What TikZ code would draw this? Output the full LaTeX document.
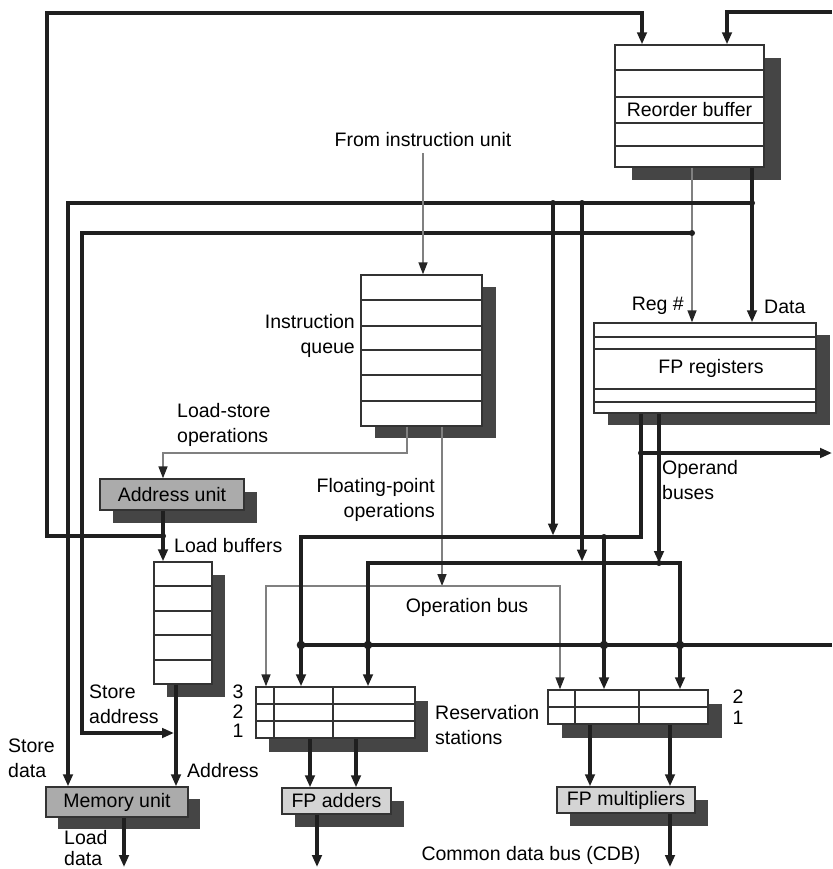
\documentclass[tikz,border=0pt]{standalone}
\usepackage{fontspec}
\setmainfont{Liberation Sans}
\usetikzlibrary{arrows.meta,shadows,calc}
\begin{document}
\begin{tikzpicture}[x=1pt,y=-1pt,
  font=\fontsize{19.5}{25}\selectfont,
  shad/.style 2 args={drop shadow={shadow xshift=#1,shadow yshift=#2,fill=black!73,opacity=1}},
  box/.style={draw=black!80,line width=1.4pt,fill=white,inner sep=0pt},
  unit/.style={box,fill=black!33},
  fpunit/.style={box,fill=black!17},
  rowl/.style={draw=black!80,line width=1.2pt},
  bus/.style={draw=black!88,line width=3.2pt},
  gline/.style={draw=black!50,line width=1.6pt},
  barr/.style={bus,-{Triangle[length=12pt,width=9.5pt]}},
  bbarr/.style={bus,{Triangle[length=12pt,width=9.5pt]}-{Triangle[length=12pt,width=9.5pt]}},
  garr/.style={gline,-{Triangle[length=12pt,width=9pt,color=black!85]}},
  ggarr/.style={gline,{Triangle[length=12pt,width=9pt,color=black!85]}-{Triangle[length=12pt,width=9pt,color=black!85]}},
  lbl/.style={inner sep=0pt,text=black,align=left}
]
\useasboundingbox (0,0) rectangle (832,869);

% ---------- boxes ----------
\node[box,shad={17pt}{-13pt},minimum width=149pt,minimum height=122pt] (rob) at (689.5,106) {};
\node[box,shad={14pt}{-12pt},minimum width=121pt,minimum height=151pt] (iq) at (421.5,350.5) {};
\node[box,shad={14pt}{-12pt},minimum width=222pt,minimum height=90pt] (fpr) at (705,368) {};
\node[unit,shad={13pt}{-13pt},minimum width=144pt,minimum height=31pt] (au) at (172,494.5) {Address unit};
\node[box,shad={13pt}{-13pt},minimum width=58pt,minimum height=122pt] (lb) at (183,623) {};
\node[unit,shad={12pt}{-12pt},minimum width=142pt,minimum height=30pt] (mu) at (117,802) {Memory unit};
\node[box,shad={13pt}{-14pt},minimum width=159pt,minimum height=51pt] (rsa) at (335.5,712.5) {};
\node[box,shad={14pt}{-14pt},minimum width=160pt,minimum height=34pt] (rsm) at (628,707) {};
\node[fpunit,shad={13pt}{-13pt},minimum width=109pt,minimum height=26pt] (fpa) at (336.5,801) {FP adders};
\node[fpunit,shad={13pt}{-13pt},minimum width=138pt,minimum height=26pt] (fpm) at (626,800) {FP multipliers};

% rows
\foreach \y in {70,97,123,146} \draw[rowl] (615,\y) -- (764,\y);
\foreach \y in {300,326,350,375,401} \draw[rowl] (361,\y) -- (482,\y);
\foreach \y in {337,349,389,402} \draw[rowl] (594,\y) -- (816,\y);
\foreach \y in {586,611,635,660} \draw[rowl] (154,\y) -- (212,\y);
\foreach \y in {704,721} \draw[rowl] (256,\y) -- (415,\y);
\foreach \x in {274,333} \draw[rowl] (\x,687) -- (\x,738);
\draw[rowl] (548,707) -- (708,707);
\foreach \x in {575,639} \draw[rowl] (\x,690) -- (\x,724);

\node[lbl] (robt) at (689.5,110) {Reorder buffer};
\node[lbl] (fprt) at (711,368) {FP registers};

% ---------- coordinates ----------
\coordinate (j1) at (163,536);
\coordinate (vA) at (642,13);
\coordinate (vB) at (727,12);
\coordinate (rg) at (692,233);
\coordinate (dt) at (752,203);
\coordinate (sd) at (68,203);
\coordinate (c553) at (553,203);
\coordinate (c582) at (582,203);
\coordinate (ls) at (407,453);
\coordinate (fp) at (442,586);
\coordinate (ob1) at (266,586);
\coordinate (ob2) at (560,586);
\coordinate (o1) at (641,537);
\coordinate (br) at (641,453);
\coordinate (o2) at (659,563);
\coordinate (a1) at (301,537);
\coordinate (a2) at (368,563);
\coordinate (m1) at (604,537);
\coordinate (m2) at (680,563);
\coordinate (cdb) at (832,645);

% ---------- connectors ----------
% address unit -> load buffers and -> ROB
\draw[barr] (au.south -| j1) -- (lb.north -| j1);
\draw[barr] (j1) -- (47,536) |- (vA) -- (vA |- rob.north);
\draw[barr] (832,12) -- (vB) -- (vB |- rob.north);

% ROB -> FP registers
\draw[garr] (rg |- rob.south) -- (rg |- fpr.north);
\draw[barr] (dt |- rob.south) -- (dt |- fpr.north);
% store address
\draw[barr] (rg) -- (82,233) |- (174,733);
% store data
\draw[barr] (dt) -- (sd) -- (sd |- mu.north);
% ROB data buses to operand buses
\draw[barr] (c553) -- (553,535.5);
\draw[barr] (c582) -- (582,561.5);

% instruction unit
\node[lbl] (fiu) at (423,140) {From instruction unit};
\draw[garr] ([yshift=-6pt]fiu.south) -- (iq.north -| fiu.south);
% load-store operations
\draw[garr] (ls |- iq.south) -- (ls) -| (au.north -| j1);
% floating point operations / operation bus
\draw[garr] (fp |- iq.south) -- (fp);
\draw[ggarr] (ob1 |- rsa.north) -- (ob1) -- (ob2) -- (ob2 |- rsm.north);

% operand buses from FP registers
\draw[barr] (o1 |- fpr.south) -- (o1) -- (a1) -- (a1 |- rsa.north);
\draw[barr] (br) -- (832,453);
\draw[barr] (m1) -- (m1 |- rsm.north);
\draw[barr] (o2 |- fpr.south) -- (o2);
\draw[bbarr] (a2 |- rsa.north) -- (a2) -- (m2) -- (m2 |- rsm.north);

% common data bus
\draw[bus] (a1 |- cdb) -- (cdb);

% reservation stations -> units
\draw[barr] (rsa.south -| 310,0) -- (fpa.north -| 310,0);
\draw[barr] (rsa.south -| 356,0) -- (fpa.north -| 356,0);
\draw[barr] (rsm.south -| 590,0) -- (fpm.north -| 590,0);
\draw[barr] (rsm.south -| 670,0) -- (fpm.north -| 670,0);
\coordinate (e1) at (317,867);
\coordinate (e2) at (670,867);
\coordinate (e3) at (124,867);
\draw[barr] (fpa.south -| e1) -- (e1);
\draw[barr] (fpm.south -| e2) -- (e2);
\draw[barr] (mu.south -| e3) -- (e3);
\draw[barr] (lb.south -| 176,0) -- (mu.north -| 176,0);

% dots
\foreach \p in {j1,dt,c553,c582,rg,br,m1,o2}
  \fill[black!88] (\p) circle[radius=3pt];
\fill[black!88] (a1 |- cdb) circle[radius=4.3pt];
\fill[black!88] (a2 |- cdb) circle[radius=4.3pt];
\fill[black!88] (m1 |- cdb) circle[radius=4.3pt];
\fill[black!88] (m2 |- cdb) circle[radius=4.3pt];

% ---------- labels ----------
\node[lbl,anchor=east,align=right] (l1) at (684,306) {Reg \#};
\node[lbl,anchor=west] (l2) at (764,307) {Data};
\node[lbl,anchor=east,align=right] (l3) at (355,336) {Instruction\\queue};
\node[lbl,anchor=west] (l4) at (177,425) {Load-store\\operations};
\node[lbl,anchor=west] (l5) at (174,546) {Load buffers};
\node[lbl,anchor=east,align=right] (l6) at (435,500) {Floating-point\\operations};
\node[lbl,anchor=west] (l7) at (662,480) {Operand\\buses};
\node[lbl] (l8) at (467,607) {Operation bus};
\node[lbl,anchor=west] (l9) at (89,704) {Store\\address};
\node[lbl,anchor=west] (l10) at (8,758) {Store\\data};
\node[lbl,anchor=west] (l11) at (187,771) {Address};
\node[lbl,anchor=west] (l12) at (64,848) {Load\\[-4pt]data};
\node[lbl] (n3) at (238,692) {3};
\node[lbl] (n2) at (238,712) {2};
\node[lbl] (n1) at (238,731) {1};
\node[lbl,anchor=west] (l13) at (435,725) {Reservation\\stations};
\node[lbl] (m2l) at (738,697) {2};
\node[lbl] (m1l) at (738,718) {1};
\node[lbl] (l14) at (531,855) {Common data bus (CDB)};
\end{tikzpicture}
\end{document}
